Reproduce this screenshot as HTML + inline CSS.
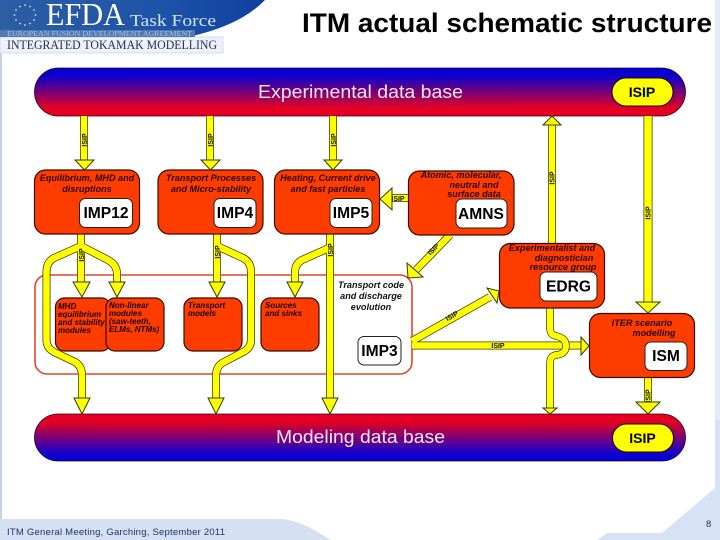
<!DOCTYPE html>
<html><head><meta charset="utf-8"><style>
html,body{margin:0;padding:0;background:#fff}
svg{display:block;filter:blur(.3px)}
text{font-family:"Liberation Sans",sans-serif}
.o{fill:none;stroke:#3a3a00;stroke-linejoin:round}
.y{fill:none;stroke:#ffff00;stroke-linejoin:round}
.h{fill:#ffff00;stroke:#3a3a00;stroke-width:1}
.r{fill:#ff3c00;stroke:#3a0a00;stroke-width:1.2}
.w{fill:#fff;stroke:#222;stroke-width:1}
.l{font-size:15.600px;font-weight:bold;fill:#000;text-anchor:middle}
.d{font-size:9.100px;font-weight:bold;font-style:italic;fill:#2a0800;text-anchor:middle}
.s{font-size:8px;font-weight:bold;font-style:italic;fill:#1a0500}
.i{font-size:7px;font-weight:bold;fill:#111;text-anchor:middle}
</style></head><body>
<svg width="720" height="540" viewBox="0 0 720 540" xmlns="http://www.w3.org/2000/svg">
<defs>
<linearGradient id="gt" x1="0" y1="0" x2="0" y2="1"><stop offset="0" stop-color="#0000d8"/><stop offset=".18" stop-color="#1000c8"/><stop offset=".85" stop-color="#e80020"/><stop offset="1" stop-color="#e80020"/></linearGradient>
<linearGradient id="gb" x1="0" y1="0" x2="0" y2="1"><stop offset="0" stop-color="#e80020"/><stop offset=".18" stop-color="#e00024"/><stop offset=".85" stop-color="#1000d0"/><stop offset="1" stop-color="#0000d8"/></linearGradient>
<linearGradient id="ban" x1="0" y1="0" x2="1" y2="0"><stop offset="0" stop-color="#2c5ea4"/><stop offset=".6" stop-color="#1e54a8"/><stop offset="1" stop-color="#0f3fa0"/></linearGradient>
</defs>
<rect width="720" height="540" fill="#fff"/>
<rect x="0" y="0" width="2" height="540" fill="#c4d2e6"/>
<rect x="715" y="0" width="5" height="420" fill="#e4ebf8"/>
<path d="M0 519H283Q305 522 330 540H0Z" fill="#d6e0f3"/>
<path d="M720 420H715V488L662 533H607L597 540H720Z" fill="#d8e2f5"/>

<!-- header -->
<rect x="0" y="37" width="223" height="16" fill="#eef1fa" stroke="#cfd6e6" stroke-width=".8"/>
<path d="M0 0H265Q240 26 188 37H0Z" fill="url(#ban)"/>
<rect x="0" y="30" width="195" height="7" fill="#4f78b4"/>
<g fill="#fff"><circle cx="25" cy="5" r=".8"/><circle cx="30" cy="6.500" r=".8"/><circle cx="34" cy="10" r=".8"/><circle cx="35.500" cy="15" r=".8"/><circle cx="34" cy="20" r=".8"/><circle cx="30" cy="23.500" r=".8"/><circle cx="25" cy="25" r=".8"/><circle cx="20" cy="23.500" r=".8"/><circle cx="16" cy="20" r=".8"/><circle cx="14.500" cy="15" r=".8"/><circle cx="16" cy="10" r=".8"/><circle cx="20" cy="6.500" r=".8"/></g>
<text x="46" y="25" textLength="79" lengthAdjust="spacingAndGlyphs" style="font-family:'Liberation Serif',serif;font-size:32px;fill:#fff">EFDA</text>
<text x="130" y="26" textLength="86" lengthAdjust="spacingAndGlyphs" style="font-family:'Liberation Serif',serif;font-size:17px;fill:#d5e2f2">Task Force</text>
<text x="7" y="36" textLength="185" lengthAdjust="spacingAndGlyphs" style="font-family:'Liberation Serif',serif;font-size:7px;fill:#b4c4dc">EUROPEAN FUSION DEVELOPMENT AGREEMENT</text>
<text x="7" y="49" textLength="210" lengthAdjust="spacingAndGlyphs" style="font-family:'Liberation Serif',serif;font-size:12.500px;fill:#1f2f55">INTEGRATED TOKAMAK MODELLING</text>
<text x="302" y="32" textLength="410" lengthAdjust="spacingAndGlyphs" style="font-size:26.500px;font-weight:bold;fill:#000">ITM actual schematic structure</text>

<!-- outline transport box -->
<rect x="35" y="275" width="377" height="99" rx="12" fill="#fff" stroke="#e0482a" stroke-width="1.600"/>

<!-- bars -->
<rect x="34.500" y="68" width="651" height="48" rx="24" fill="url(#gt)" stroke="#200020" stroke-width=".8"/>
<rect x="34.500" y="414" width="651" height="47" rx="23.500" fill="url(#gb)" stroke="#200020" stroke-width=".8"/>
<text x="258" y="98" textLength="205" lengthAdjust="spacingAndGlyphs" style="font-size:18.500px;fill:#f8e8f4">Experimental data base</text>
<text x="276" y="443" textLength="169" lengthAdjust="spacingAndGlyphs" style="font-size:18.500px;fill:#f8e8f4">Modeling data base</text>
<rect x="612" y="78" width="61" height="28" rx="14" fill="#ffff00" stroke="#111" stroke-width="1"/>
<rect x="612.500" y="424" width="61" height="28" rx="14" fill="#ffff00" stroke="#111" stroke-width="1"/>
<text x="642" y="97" text-anchor="middle" style="font-size:14px;font-weight:bold;fill:#000">ISIP</text>
<text x="642.500" y="443" text-anchor="middle" style="font-size:14px;font-weight:bold;fill:#000">ISIP</text>

<!-- arrow shafts -->
<g class="o" stroke-width="8">
<path d="M84 116V162M210 116V162M333 116V162"/>
<path d="M552 124V243"/>
</g>
<g class="y" stroke-width="6.500">
<path d="M84 116V162M210 116V162M333 116V162"/>
<path d="M552 124V243"/>
</g>
<path class="o" stroke-width="9" d="M648 116V304"/>
<path class="y" stroke-width="7.500" d="M648 116V304"/>

<g class="o" stroke-width="8">
<path d="M81 234V284"/>
<path d="M81 246L108 260Q117 265 117 274V284"/>
<path d="M81 246L54 258Q46.500 262 46.500 272V340Q46.500 348 54 352L75 362Q82 366 82 376V400"/>
<path d="M217 234V284"/>
<path d="M217 246L243 258Q251 262 251 272V340Q251 348 243 352L224 362Q216 366 216 376V400"/>
<path d="M330 234V400"/>
<path d="M329 248L302 260Q295 264 295 272V284"/>
<path d="M412 345.500H583"/>
<path d="M412 341L490 297"/>
<path d="M450 235L416 270"/>
<path d="M408 198H392"/>
<path d="M648 377V404"/>
</g>
<g class="y" stroke-width="6.500">
<path d="M81 234V284"/>
<path d="M81 246L108 260Q117 265 117 274V284"/>
<path d="M81 246L54 258Q46.500 262 46.500 272V340Q46.500 348 54 352L75 362Q82 366 82 376V400"/>
<path d="M217 234V284"/>
<path d="M217 246L243 258Q251 262 251 272V340Q251 348 243 352L224 362Q216 366 216 376V400"/>
<path d="M330 234V400"/>
<path d="M329 248L302 260Q295 264 295 272V284"/>
<path d="M412 345.500H583"/>
<path d="M412 341L490 297"/>
<path d="M450 235L416 270"/>
<path d="M408 198H392"/>
<path d="M648 377V404"/>
</g>
<!-- jump over the horizontal connector -->
<path class="o" stroke-width="7.500" d="M550 308V328Q550 335 556 336Q566 338 566 346Q566 354 556 355Q550 356 550 363V408"/>
<path class="y" stroke-width="6" d="M550 308V328Q550 335 556 336Q566 338 566 346Q566 354 556 355Q550 356 550 363V408"/>

<!-- red boxes -->
<rect class="r" x="34.500" y="170" width="105" height="64" rx="11"/>
<rect class="r" x="158" y="170" width="105" height="64" rx="11"/>
<rect class="r" x="274.500" y="170" width="105" height="64" rx="11"/>
<rect class="r" x="408.500" y="171" width="105.500" height="64" rx="11"/>
<rect class="r" x="499.500" y="243.500" width="105" height="64.500" rx="11"/>
<rect class="r" x="589.500" y="313.500" width="105" height="64" rx="11"/>
<rect class="r" x="55.500" y="298" width="55" height="53" rx="9"/>
<rect class="r" x="106" y="298" width="58" height="53" rx="9"/>
<rect class="r" x="184" y="298" width="58" height="53" rx="9"/>
<rect class="r" x="261" y="298" width="58" height="53" rx="9"/>

<!-- white boxes -->
<rect class="w" x="79.500" y="198.500" width="53" height="29" rx="6"/>
<rect class="w" x="214" y="198.500" width="42" height="29" rx="6"/>
<rect class="w" x="330" y="198.500" width="42" height="29" rx="6"/>
<rect class="w" x="456" y="199" width="51" height="29" rx="6"/>
<rect class="w" x="540" y="272" width="57" height="29" rx="6"/>
<rect class="w" x="645" y="342" width="42" height="28.500" rx="6"/>
<rect class="w" x="358" y="336.500" width="43" height="28.500" rx="6"/>
<text class="l" x="106" y="218">IMP12</text>
<text class="l" x="235" y="218">IMP4</text>
<text class="l" x="351" y="218">IMP5</text>
<text class="l" x="481" y="219">AMNS</text>
<text class="l" x="568.500" y="291.500">EDRG</text>
<text class="l" x="666" y="361">ISM</text>
<text class="l" x="379.500" y="356">IMP3</text>

<!-- heads -->
<g class="h">
<polygon points="75,160 94,160 84.500,170"/>
<polygon points="201,160 220,160 210.500,170"/>
<polygon points="324,160 342,160 333,170"/>
<polygon points="552,116 561,125 543,125"/>
<polygon points="636,302 660,302 648,313"/>
<polygon points="73,282 90,282 82,297"/>
<polygon points="109,282 125,282 117,297"/>
<polygon points="209,282 225,282 217,297"/>
<polygon points="287,282 303,282 295,297"/>
<polygon points="74,398 90,398 82,414"/>
<polygon points="208,398 224,398 216,414"/>
<polygon points="322,398 338,398 330,414"/>
<polygon points="543,408 557,408 550,414"/>
<polygon points="636,402 660,402 648,414"/>
<polygon points="380,199 392,188 392,210"/>
<polygon points="408,278 407,263 423,277"/>
<polygon points="499,291 487,288 497,303"/>
<polygon points="581,337 589,346 581,355"/>
</g>

<!-- ISIP connector labels -->
<g class="i">
<text transform="translate(87,140) rotate(-90)" x="0" y="0">ISIP</text>
<text transform="translate(213,140) rotate(-90)" x="0" y="0">ISIP</text>
<text transform="translate(336,140) rotate(-90)" x="0" y="0">ISIP</text>
<text transform="translate(554.500,178) rotate(-90)" x="0" y="0">ISIP</text>
<text transform="translate(650.500,213) rotate(-90)" x="0" y="0">ISIP</text>
<text transform="translate(84,255) rotate(-90)" x="0" y="0">ISIP</text>
<text transform="translate(220,252) rotate(-90)" x="0" y="0">ISIP</text>
<text transform="translate(333,250) rotate(-90)" x="0" y="0">ISIP</text>
<text transform="translate(650.500,396) rotate(-90)" x="0" y="0">ISIP</text>
<text x="398" y="201">ISIP</text>
<text x="498" y="348">ISIP</text>
<text transform="translate(435,251) rotate(-45)" x="0" y="0">ISIP</text>
<text transform="translate(453,318) rotate(-30)" x="0" y="0">ISIP</text>
</g>

<!-- descriptions -->
<text class="d" x="87" y="181">Equilibrium, MHD and</text>
<text class="d" x="87" y="192">disruptions</text>
<text class="d" x="211" y="181">Transport Processes</text>
<text class="d" x="211" y="192">and Micro-stability</text>
<text class="d" x="328" y="181">Heating, Current drive</text>
<text class="d" x="328" y="192">and fast particles</text>
<text class="d" x="461" y="178">Atomic, molecular,</text>
<text class="d" x="474" y="188">neutral and</text>
<text class="d" x="474" y="197">surface data</text>
<text class="d" x="552" y="251">Experimentalist and</text>
<text class="d" x="564" y="261">diagnostician</text>
<text class="d" x="563" y="270">resource group</text>
<text class="d" x="642" y="326">ITER scenario</text>
<text class="d" x="654" y="336">modelling</text>
<text class="d" x="371" y="288" style="fill:#111">Transport code</text>
<text class="d" x="371" y="299" style="fill:#111">and discharge</text>
<text class="d" x="371" y="310" style="fill:#111">evolution</text>
<text class="s" x="58" y="309">MHD</text>
<text class="s" x="58" y="317">equilibrium</text>
<text class="s" x="58" y="325">and stability</text>
<text class="s" x="58" y="333">modules</text>
<text class="s" x="109" y="308">Non-linear</text>
<text class="s" x="109" y="316">modules</text>
<text class="s" x="109" y="324">(saw-teeth,</text>
<text class="s" x="109" y="332">ELMs, NTMs)</text>
<text class="s" x="188" y="308">Transport</text>
<text class="s" x="188" y="316">models</text>
<text class="s" x="265" y="308">Sources</text>
<text class="s" x="265" y="316">and sinks</text>

<!-- footer -->
<text x="7" y="535" textLength="218" lengthAdjust="spacing" style="font-size:9.500px;fill:#1a3568">ITM General Meeting, Garching, September 2011</text>
<text x="706" y="527" style="font-size:9.500px;fill:#1a3568">8</text>
</svg>
</body></html>
